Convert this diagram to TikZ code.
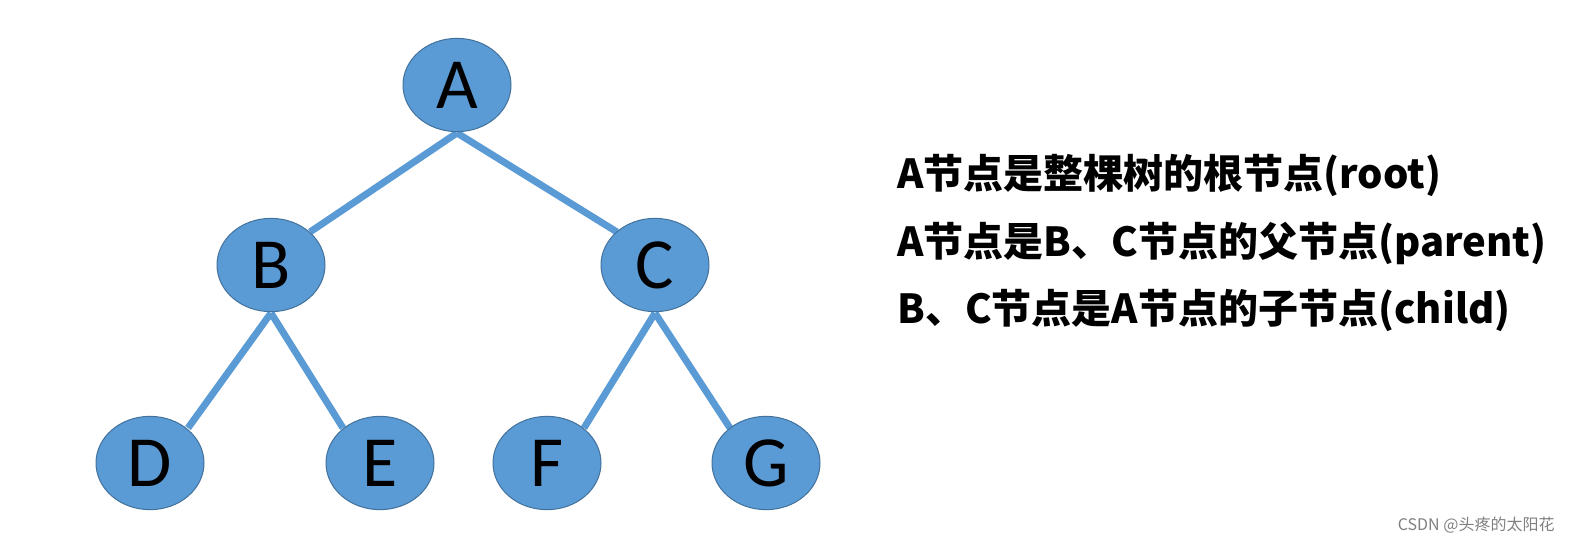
\documentclass[tikz,border=0pt]{standalone}
\usepackage{fontspec}
\setmainfont{Carlito}
\newfontfamily\cjk{Noto Sans CJK SC}
\usetikzlibrary{shapes.geometric}
\definecolor{nodeblue}{RGB}{91,155,213}
\definecolor{nodeedge}{RGB}{65,113,156}
\tikzset{every picture/.style={line width=0.75pt},
  treenode/.style={ellipse,draw=nodeedge,fill=nodeblue,minimum width=81pt,minimum height=70pt,inner sep=0pt,font=\fontsize{54}{54}\selectfont},
  treeedge/.style={draw=nodeblue,line width=5.2pt},
  infotext/.style={anchor=west,inner sep=0pt,font=\cjk\bfseries\fontsize{30}{30}\selectfont}}
\begin{document}
\begin{tikzpicture}[x=0.75pt,y=0.75pt,yscale=-1,xscale=1]
\useasboundingbox (0,0) rectangle (1570,547);

% Tree edges
\coordinate (As) at (457,133);
\coordinate (Bs) at (271,313);
\coordinate (Cs) at (655,313);
\draw[treeedge] (As) -- (310,232) (As) -- (617,232);
\draw[treeedge] (Bs) -- (188,428) (Bs) -- (343,428);
\draw[treeedge] (Cs) -- (584,428) (Cs) -- (730,428);

% Tree nodes
\node[treenode] (A) at (457,85) {A};
\node[treenode] (B) at (271,265) {B};
\node[treenode] (C) at (655,265) {C};
\node[treenode] (D) at (150,463) {D};
\node[treenode] (E) at (380,463) {E};
\node[treenode] (F) at (547,463) {F};
\node[treenode] (G) at (766,463) {G};

% Text
\node[infotext] (t1) at (897,175) {A节点是整棵树的根节点(root)};
\node[infotext] (t2) at (897,243) {A节点是B、C节点的父节点(parent)};
\node[infotext] (t3) at (897,310) {B、C节点是A节点的子节点(child)};
\node[anchor=east,inner sep=0pt,text=gray,font=\cjk\fontsize{12}{12}\selectfont] (wm) at (1555,525) {CSDN @头疼的太阳花};

\end{tikzpicture}
\end{document}
